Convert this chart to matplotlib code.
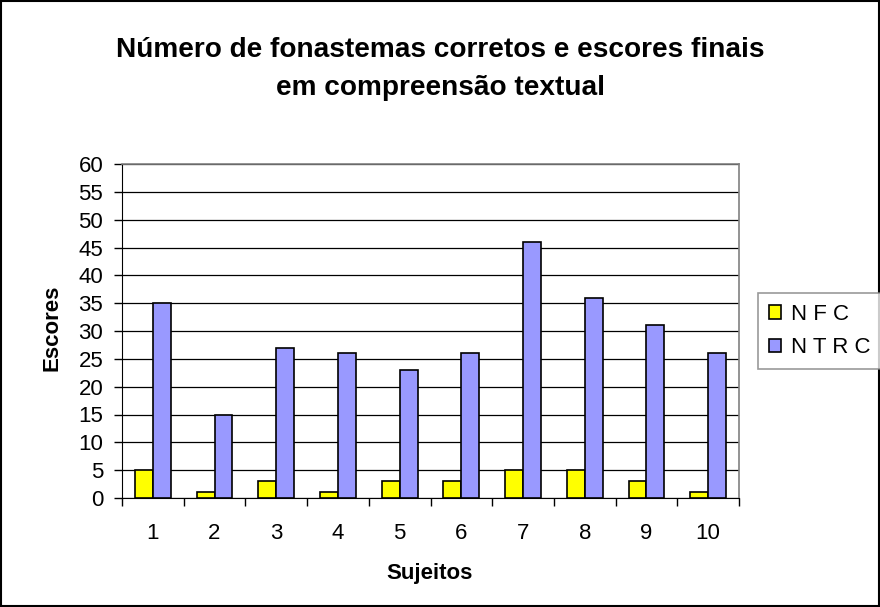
import numpy as np
import matplotlib
matplotlib.use("Agg")
import matplotlib.pyplot as plt
from matplotlib.patches import Rectangle

plt.rcParams['font.family'] = ['Liberation Sans', 'DejaVu Sans']

# dados
sujeitos = ['1', '2', '3', '4', '5', '6', '7', '8', '9', '10']
nfc = [5, 1, 3, 1, 3, 3, 5, 5, 3, 1]
ntrc = [35, 15, 27, 26, 23, 26, 46, 36, 31, 26]
series_labels = ['N F C', 'N T R C']
cores = ['#FFFF00', '#9999FF']

W, H = 880, 607
fig = plt.figure(figsize=(W / 100, H / 100), dpi=100)
ax = fig.add_axes([122 / W, 1 - 498 / H, 617 / W, 334 / H])

x = np.arange(len(sujeitos))
w = 0.29
b1 = ax.bar(x - w / 2, nfc, w, color=cores[0], edgecolor='black', linewidth=1.2,
            label=series_labels[0], zorder=3)
b2 = ax.bar(x + w / 2, ntrc, w, color=cores[1], edgecolor='black', linewidth=1.2,
            label=series_labels[1], zorder=3)

ax.set_xlim(-0.5, len(sujeitos) - 0.5)
ax.set_ylim(0, 60)
ax.set_yticks(np.arange(0, 61, 5))
ax.yaxis.grid(True, color='black', linewidth=0.9, zorder=0)
ax.set_axisbelow(True)

# ticks entre os grupos
ax.set_xticks(np.arange(-0.5, len(sujeitos), 1.0))
ax.set_xticklabels([])
ax.set_xticks(x, minor=True)
ax.set_xticklabels(sujeitos, minor=True)
ax.tick_params(axis='x', which='minor', length=0, labelsize=16, pad=18)
ax.tick_params(axis='x', which='major', length=5.5, width=1, direction='out')
ax.tick_params(axis='y', length=5.5, width=1, direction='out', labelsize=16, pad=8)

for s in ['top', 'right']:
    ax.spines[s].set_color('#808080')
    ax.spines[s].set_linewidth(1.2)
ax.spines['left'].set_color('black')
ax.spines['bottom'].set_color('black')

# rotulos dos eixos
fig.text(52 / W, 1 - 328 / H, 'Escores', rotation=90, ha='center', va='center',
         fontsize=16, fontweight='bold')
fig.text(430 / W, 1 - 573 / H, 'Sujeitos', ha='center', va='center',
         fontsize=16, fontweight='bold')

# titulo
fig.text(0.5, 1 - 57 / H, 'Número de fonastemas corretos e escores finais',
         ha='center', va='baseline', fontsize=20.2, fontweight='bold')
fig.text(0.5, 1 - 95 / H, 'em compreensão textual',
         ha='center', va='baseline', fontsize=20.2, fontweight='bold')

leg = fig.legend(handles=[b1, b2], labels=series_labels,
                 loc='center left', bbox_to_anchor=(758 / W, 1 - 331 / H),
                 fontsize=16, frameon=True, fancybox=False, edgecolor='#808080',
                 handlelength=0.55, handleheight=0.55, handletextpad=0.45,
                 borderpad=0.5, labelspacing=0.55, borderaxespad=0)
leg.get_frame().set_linewidth(1.2)

# moldura da figura
fig.patches.append(Rectangle((0.001, 0.001), 0.998, 0.998, transform=fig.transFigure,
                             fill=False, edgecolor='black', linewidth=1.5))

fig.savefig('out.png', dpi=100)
